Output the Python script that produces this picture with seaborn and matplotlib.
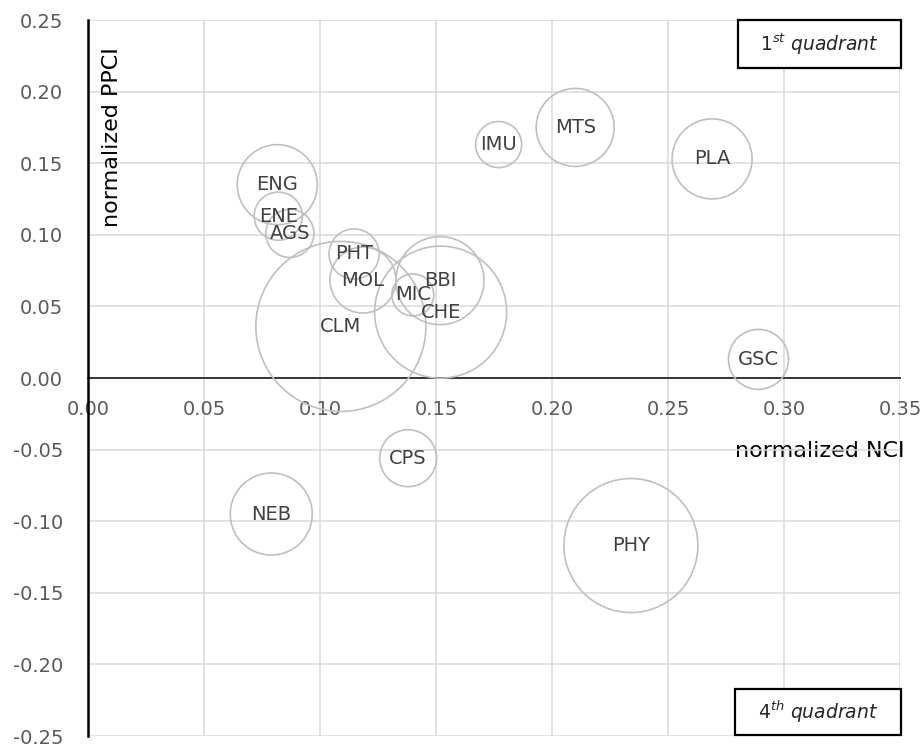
import matplotlib
matplotlib.use("Agg")
import matplotlib.pyplot as plt
import seaborn as sns
import pandas as pd
from matplotlib.ticker import FuncFormatter
from matplotlib.patches import Rectangle

# ---------------- data ----------------
names = ["ENG", "ENE", "AGS", "PHT", "MOL", "CLM", "MIC", "BBI", "CHE",
         "IMU", "MTS", "PLA", "GSC", "CPS", "NEB", "PHY"]
nci = [0.0816, 0.0820, 0.0870, 0.1147, 0.1185, 0.1090, 0.1400, 0.1517, 0.1520,
       0.1770, 0.2100, 0.2690, 0.2890, 0.1380, 0.0790, 0.2340]
ppci = [0.135, 0.113, 0.101, 0.0866, 0.0684, 0.0360, 0.0580, 0.0680, 0.0460,
        0.163, 0.175, 0.153, 0.013, -0.056, -0.095, -0.117]
weight = [16.0, 5.8, 5.8, 6.3, 10.9, 72.3, 4.4, 19.4, 43.6,
          5.3, 15.2, 16.0, 9.0, 8.1, 16.8, 44.9]
x_ticks = [0.00, 0.05, 0.10, 0.15, 0.20, 0.25, 0.30, 0.35]
y_ticks = [-0.25, -0.20, -0.15, -0.10, -0.05, 0.00, 0.05, 0.10, 0.15, 0.20, 0.25]
x_title = "normalized NCI"
y_title = "normalized PPCI"

# ---------------- style ----------------
sns.set_theme(style="white")
plt.rcParams["font.family"] = ["DejaVu Sans"]
plt.rcParams["mathtext.fontset"] = "dejavusans"
plt.rcParams["axes.unicode_minus"] = False

DPI = 100
W, H = 922, 749
fig = plt.figure(figsize=(W / DPI, H / DPI), dpi=DPI)
L, R, T, B = 88, 900, 20, 736
ax = fig.add_axes([L / W, 1 - B / H, (R - L) / W, (B - T) / H])

df = pd.DataFrame({"name": names, "nci": nci, "ppci": ppci, "weight": weight})

# marker area proportional to weight
k = (20 * 72 / DPI) ** 2
sns.scatterplot(data=df, x="nci", y="ppci", size="weight",
                sizes=(k * min(weight), k * max(weight)),
                legend=False, ax=ax, zorder=3)
pc = ax.collections[-1]
pc.set_facecolor("none")
pc.set_edgecolor("#bfbfbf")
pc.set_linewidth(1.2)

for n, xv, yv in zip(df["name"], df["nci"], df["ppci"]):
    ax.text(xv, yv, n, ha="center", va="center", fontsize=14,
            color="#404040", zorder=4)

ax.set_xlim(x_ticks[0], x_ticks[-1])
ax.set_ylim(y_ticks[0], y_ticks[-1])
ax.set_xticks(x_ticks)
ax.set_yticks(y_ticks)
fmt = FuncFormatter(lambda v, p: f"{v:.2f}")
ax.xaxis.set_major_formatter(fmt)
ax.yaxis.set_major_formatter(fmt)

ax.grid(True, color="#d9d9d9", linewidth=1.1)
ax.set_axisbelow(True)

for s in ["top", "right"]:
    ax.spines[s].set_visible(False)
ax.spines["left"].set_color("black")
ax.spines["left"].set_linewidth(1.8)
ax.spines["bottom"].set_position(("data", 0))
ax.spines["bottom"].set_color("#262626")
ax.spines["bottom"].set_linewidth(1.3)
ax.spines["left"].set_zorder(5)
ax.spines["bottom"].set_zorder(2)

ax.tick_params(axis="both", length=0, labelsize=14, labelcolor="#595959")
ax.tick_params(axis="x", pad=16)
ax.tick_params(axis="y", pad=18)

ax.set_xlabel(x_title, fontsize=16, color="black", ha="right", va="center")
ax.xaxis.set_label_coords((904 - L) / (R - L), (B - 451) / (B - T))
ax.set_ylabel(y_title, fontsize=16, color="black", ha="center", va="center")
ax.yaxis.set_label_coords((112 - L) / (R - L), (B - 137) / (B - T))

# quadrant boxes
def qbox(x0, x1, y0, y1, label):
    ax0 = (x0 - L) / (R - L)
    ax1 = (x1 - L) / (R - L)
    ay0 = (B - y1) / (B - T)
    ay1 = (B - y0) / (B - T)
    ax.add_patch(Rectangle((ax0, ay0), ax1 - ax0, ay1 - ay0,
                           transform=ax.transAxes, facecolor="white",
                           edgecolor="black", linewidth=1.6,
                           clip_on=False, zorder=6))
    ax.text((ax0 + ax1) / 2, (ay0 + ay1) / 2, label, transform=ax.transAxes,
            ha="center", va="center", fontsize=13.5, style="italic",
            color="#262626", zorder=7)

qbox(738, 901, 20, 68, r"$\mathit{1^{st}}$ quadrant")
qbox(735, 901, 689, 735, r"$\mathit{4^{th}}$ quadrant")

fig.savefig("out.png", dpi=DPI, facecolor="white")
